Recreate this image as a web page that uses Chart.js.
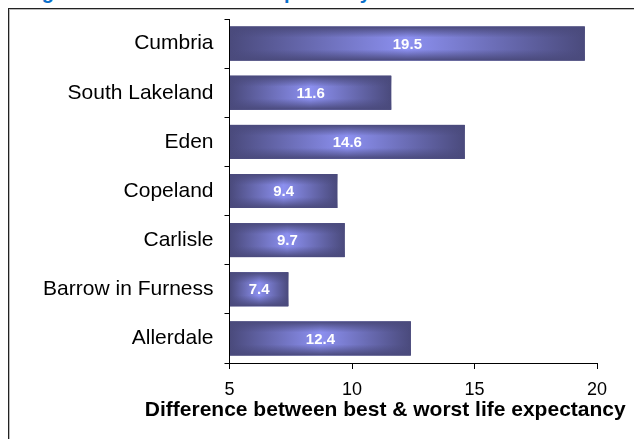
<!DOCTYPE html>
<html>
<head>
<meta charset="utf-8">
<script src="https://cdn.jsdelivr.net/npm/chart.js@4/dist/chart.umd.min.js"></script>
<style>
    body { margin: 0; background: #fff; overflow: hidden; }
    #title {
        position: absolute; left: 24px; top: -18px;
        font: bold 20px Arial, "Liberation Sans", sans-serif;
        line-height: 20px; color: #0a6fc9; white-space: nowrap;
    }
    #frame {
        position: absolute; left: 8px; top: 8px; width: 700px; height: 500px;
        border: 1px solid #222; box-shadow: inset 1px 1px 0 #bbb;
    }
    #wrap { position: absolute; left: 0; top: 0; width: 634px; height: 439px; }
</style>
</head>
<body>
<div id="title">Figure 6: Variation in life expectancy</div>
<div id="frame"></div>
<div id="wrap"><canvas id="lifeChart" width="634" height="439"></canvas></div>
<script>
// Data
const districts = ["Cumbria", "South Lakeland", "Eden", "Copeland", "Carlisle", "Barrow in Furness", "Allerdale"];
const gapYears = [19.5, 11.6, 14.6, 9.4, 9.7, 7.4, 12.4];
const xTicks = [5, 10, 15, 20];
const xTitle = 'Difference between best & worst life expectancy';

const fontFamily = 'Arial, "Liberation Sans", sans-serif';
const edgeColor = '#4a4a7c';
const midColor = '#8c90f0';

// Paint every bar with a "pillow" gradient and put the value in the middle
const pillowBars = {
    id: 'pillowBars',
    afterDatasetsDraw(chart) {
        const ctx = chart.ctx;
        const meta = chart.getDatasetMeta(0);
        meta.data.forEach((bar, i) => {
            const left = Math.min(bar.base, bar.x);
            const right = Math.max(bar.base, bar.x);
            const top = bar.y - bar.height / 2;
            const bottom = bar.y + bar.height / 2;
            const w = right - left, h = bottom - top;

            ctx.save();
            let g = ctx.createLinearGradient(left, 0, right, 0);
            g.addColorStop(0, edgeColor);
            g.addColorStop(0.5, midColor);
            g.addColorStop(1, edgeColor);
            ctx.fillStyle = g;
            ctx.fillRect(left, top, w, h);

            let v = ctx.createLinearGradient(0, top, 0, bottom);
            v.addColorStop(0, 'rgba(74,74,124,1)');
            v.addColorStop(0.32, 'rgba(74,74,124,0)');
            v.addColorStop(0.68, 'rgba(74,74,124,0)');
            v.addColorStop(1, 'rgba(74,74,124,1)');
            ctx.fillStyle = v;
            ctx.fillRect(left, top, w, h);

            ctx.fillStyle = '#ffffff';
            ctx.font = 'bold 15px ' + fontFamily;
            ctx.textAlign = 'center';
            ctx.textBaseline = 'middle';
            ctx.fillText(gapYears[i].toFixed(1), (left + right) / 2, bar.y + 1);
            ctx.restore();
        });
    },
    // axis title sits a little left of the plot centre in the original
    afterDraw(chart) {
        const ctx = chart.ctx;
        const area = chart.chartArea;
        ctx.save();
        ctx.fillStyle = '#000';
        ctx.font = 'bold 21px ' + fontFamily;
        ctx.textAlign = 'center';
        ctx.textBaseline = 'middle';
        ctx.fillText(xTitle, (area.left + area.right) / 2 - 28, 410);
        ctx.restore();
    }
};

new Chart(document.getElementById("lifeChart").getContext("2d"), {
    type: 'bar',
    data: {
        labels: districts,
        datasets: [{
            label: xTitle,
            data: gapYears,
            base: 5,
            backgroundColor: edgeColor,
            barPercentage: 0.69,
            categoryPercentage: 1
        }]
    },
    options: {
        indexAxis: 'y',
        responsive: false,
        animation: false,
        layout: { padding: { left: 0, right: 37, top: 19, bottom: 0 } },
        plugins: {
            legend: { display: false },
            tooltip: { enabled: false }
        },
        scales: {
            x: {
                min: 5,
                max: 20,
                afterBuildTicks: scale => { scale.ticks = xTicks.map(v => ({ value: v })); },
                afterFit: scale => { scale.height = 76; },
                ticks: {
                    color: '#000',
                    padding: 10,
                    font: { family: fontFamily, size: 18 }
                },
                grid: { drawOnChartArea: false, tickLength: 6, color: '#000' },
                border: { color: '#000' }
            },
            y: {
                afterFit: scale => {
                    scale.width = 229.5;
                    scale.paddingTop = 0;
                    scale.paddingBottom = 0;
                },
                ticks: {
                    color: '#000',
                    padding: 11,
                    font: { family: fontFamily, size: 21 }
                },
                grid: { drawOnChartArea: false, offset: true, tickLength: 5, color: '#000' },
                border: { color: '#000' }
            }
        }
    },
    plugins: [pillowBars]
});
</script>
</body>
</html>
